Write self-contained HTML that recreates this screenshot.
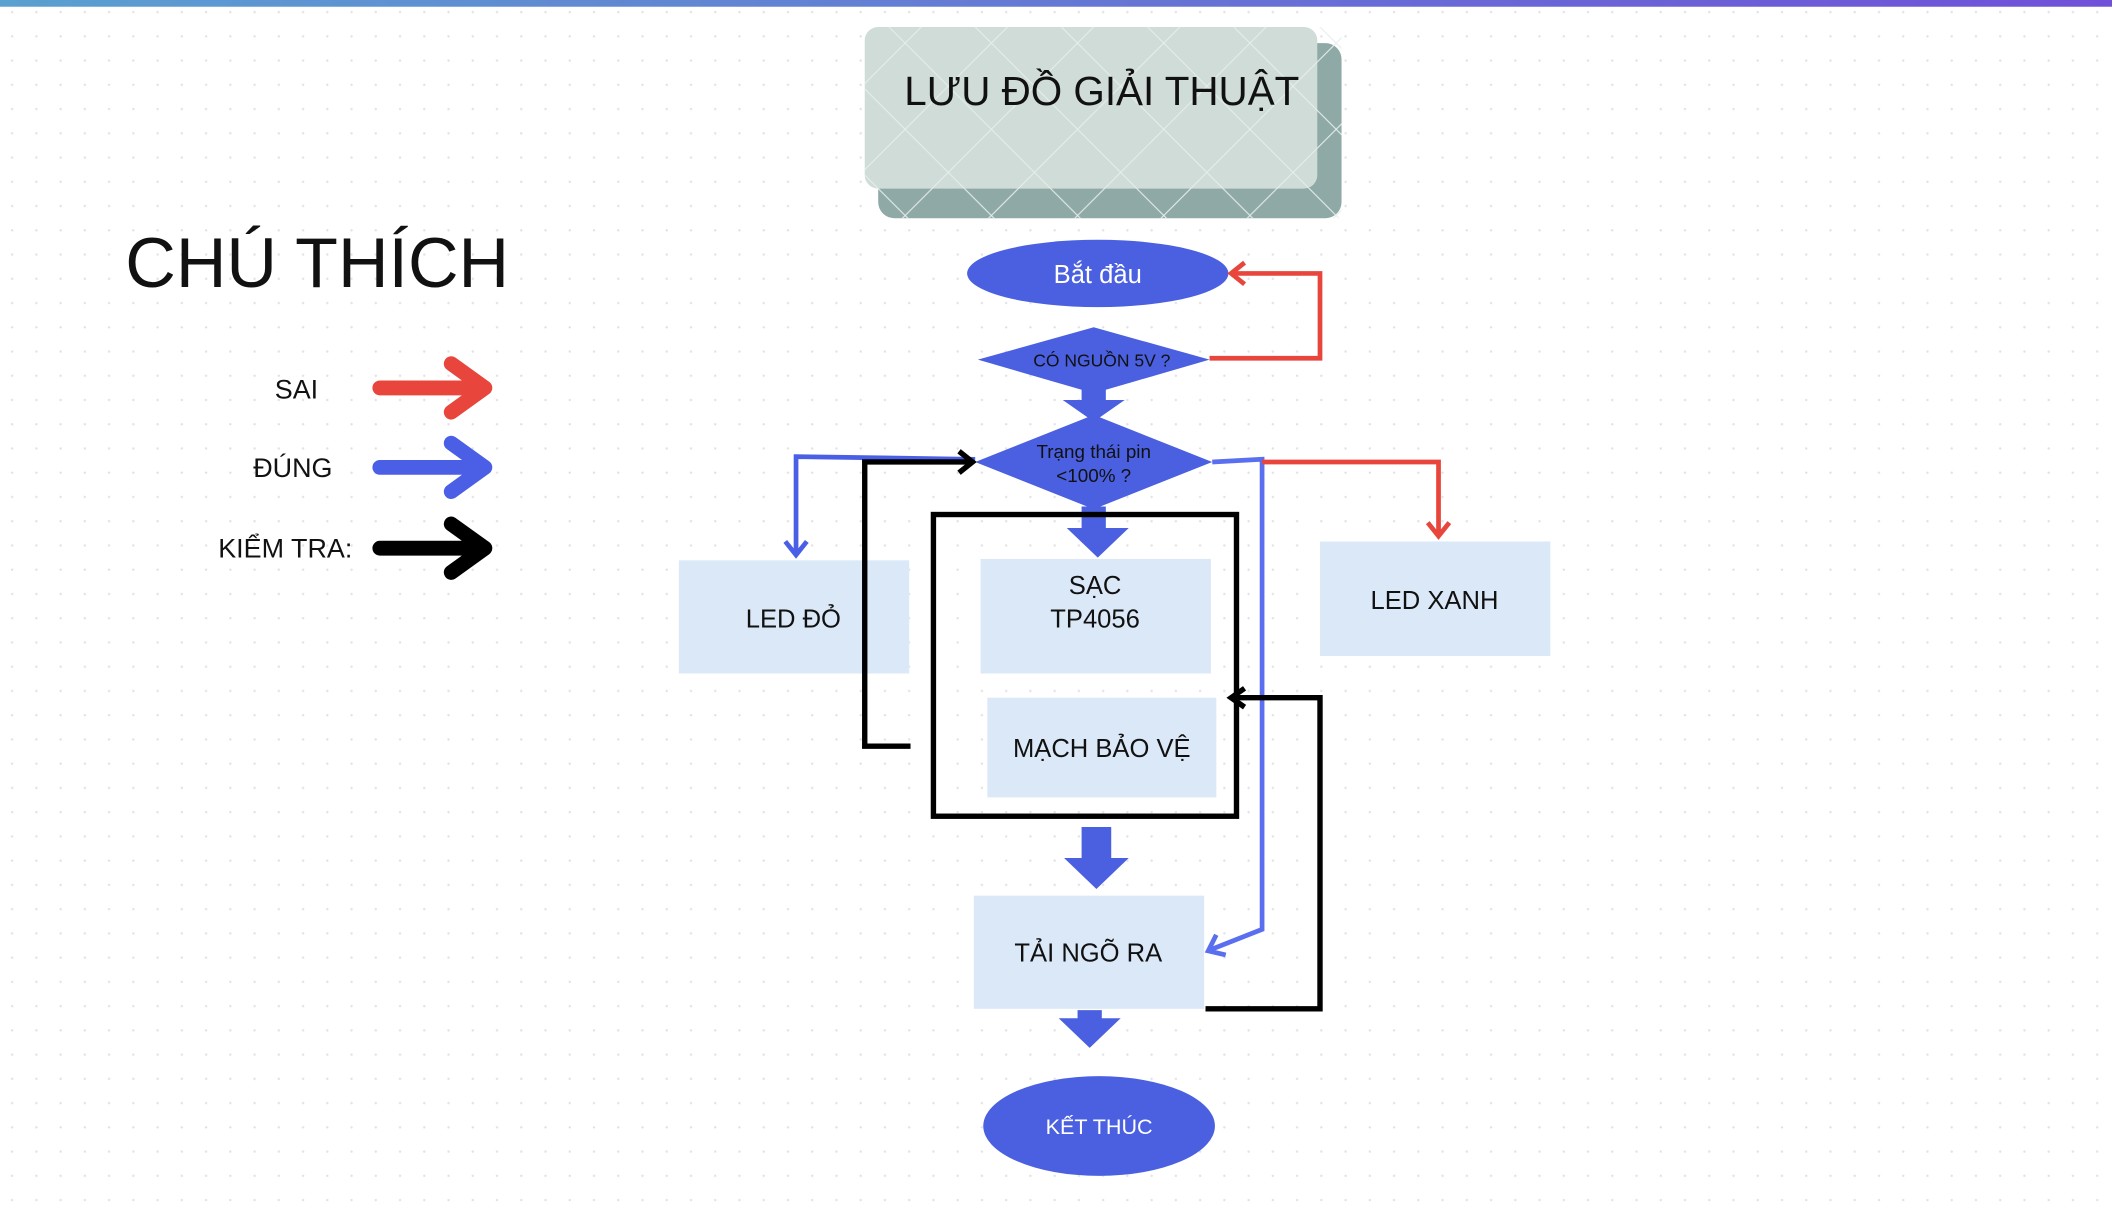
<!DOCTYPE html>
<html><head><meta charset="utf-8"><style>
html,body{margin:0;padding:0;background:#fff;width:2112px;height:1223px;overflow:hidden}
svg{display:block}
text{font-family:"Liberation Sans","DejaVu Sans",sans-serif}
</style></head><body>
<svg width="2112" height="1223" viewBox="0 0 1568 908" preserveAspectRatio="none" xmlns="http://www.w3.org/2000/svg">
<defs>
<pattern id="dots" width="18" height="18" patternUnits="userSpaceOnUse"><circle cx="9" cy="9" r="0.9" fill="#e2e2e6"/></pattern>
<linearGradient id="bar" x1="0" x2="1"><stop offset="0" stop-color="#5aa0d0"/><stop offset="1" stop-color="#7050d8"/></linearGradient>
<pattern id="diam" width="64" height="64" patternUnits="userSpaceOnUse"><path d="M0 0L64 64M64 0L0 64" stroke="#e6eeec" stroke-width="0.8"/></pattern>
</defs>
<rect width="1568" height="908" fill="url(#dots)"/>
<rect width="1568" height="5" fill="url(#bar)"/>
<!-- title -->
<rect x="652" y="32" width="344" height="130" rx="12" fill="#8fa9a6"/>
<rect x="642" y="20" width="336" height="120" rx="10" fill="#cfdcd8"/>
<rect x="642" y="20" width="354" height="142" fill="url(#diam)"/>
<text x="818" y="78" font-size="30" text-anchor="middle" fill="#111">LƯU ĐỒ GIẢI THUẬT</text>
<!-- legend -->
<text x="93" y="213" font-size="52" fill="#111">CHÚ THÍCH</text>
<text x="204" y="296" font-size="20" fill="#111">SAI</text>
<text x="188" y="354" font-size="20" fill="#111">ĐÚNG</text>
<text x="162" y="414" font-size="20" fill="#111">KIỂM TRA:</text>
<g stroke-width="11" fill="none" stroke-linecap="round" stroke-linejoin="round">
<path d="M282 288H358M335 270L360 288L335 306" stroke="#e8453c"/>
<path d="M282 347H358M335 329L360 347L335 365" stroke="#4a5ee6"/>
<path d="M282 407H358M335 389L360 407L335 425" stroke="#000"/>
</g>
<!-- nodes -->
<ellipse cx="815" cy="203" rx="97" ry="25" fill="#4a60e0"/>
<text x="815" y="210" font-size="19" fill="#fff" text-anchor="middle">Bắt đầu</text>
<polygon points="726,267 812,243 898,267 812,292" fill="#4a60e0"/>
<text x="818" y="272" font-size="13" fill="#111" text-anchor="middle">CÓ NGUỒN 5V ?</text>
<path d="M803 289H821V297H835L812 313L789 297H803Z" fill="#4a60e0"/>
<polygon points="724,343 812,308 900,343 812,378" fill="#4a60e0"/>
<text x="812" y="340" font-size="14" fill="#111" text-anchor="middle">Trạng thái pin</text>
<text x="812" y="358" font-size="14" fill="#111" text-anchor="middle">&lt;100% ?</text>
<path d="M803 376H821V392H838L815 414L792 392H803Z" fill="#4a60e0"/>
<rect x="728" y="415" width="171" height="85" fill="#dbe8f8"/>
<text x="813" y="441" font-size="19" fill="#111" text-anchor="middle">SẠC</text>
<text x="813" y="466" font-size="19" fill="#111" text-anchor="middle">TP4056</text>
<rect x="733" y="518" width="170" height="74" fill="#dbe8f8"/>
<text x="818" y="562" font-size="19" fill="#111" text-anchor="middle">MẠCH BẢO VỆ</text>
<rect x="504" y="416" width="171" height="84" fill="#dbe8f8"/>
<text x="589" y="466" font-size="19" fill="#111" text-anchor="middle">LED ĐỎ</text>
<rect x="980" y="402" width="171" height="85" fill="#dbe8f8"/>
<text x="1065" y="452" font-size="19" fill="#111" text-anchor="middle">LED XANH</text>
<path d="M803 614H825V637H838L814 660L790 637H803Z" fill="#4a60e0"/>
<rect x="723" y="665" width="171" height="84" fill="#dbe8f8"/>
<text x="808" y="714" font-size="19" fill="#111" text-anchor="middle">TẢI NGÕ RA</text>
<path d="M800 750H818V756H832L809 778L786 756H800Z" fill="#4a60e0"/>
<ellipse cx="816" cy="836" rx="86" ry="37" fill="#4a60e0"/>
<text x="816" y="842" font-size="16" fill="#fff" text-anchor="middle">KẾT THÚC</text>
<!-- connectors -->
<g fill="none" stroke-width="3.5">
<path d="M898 266H980V203H916" stroke="#e8453c"/>
<path d="M924 195L914 203L924 211" stroke="#e8453c"/>
<path d="M724 341L591 339V410" stroke="#4a5ee6"/>
<path d="M583 402L591 412L599 402" stroke="#4a5ee6"/>
<path d="M900 343L937 341V690L899 705" stroke="#5a6ef0"/>
<path d="M903 694L897 706L910 709" stroke="#5a6ef0"/>
<path d="M937 343H1068V396" stroke="#e8453c"/>
<path d="M1060 388L1068 398L1076 388" stroke="#e8453c"/>
</g>
<g fill="none" stroke="#000" stroke-width="4">
<path d="M676 554H642V343H720"/>
<path d="M712 335L722 343L712 351"/>
<path d="M895 749H980V518H916"/>
<path d="M924 511L914 518L924 525"/>
<rect x="693" y="382" width="225" height="224"/>
</g>
</svg>
</body></html>
